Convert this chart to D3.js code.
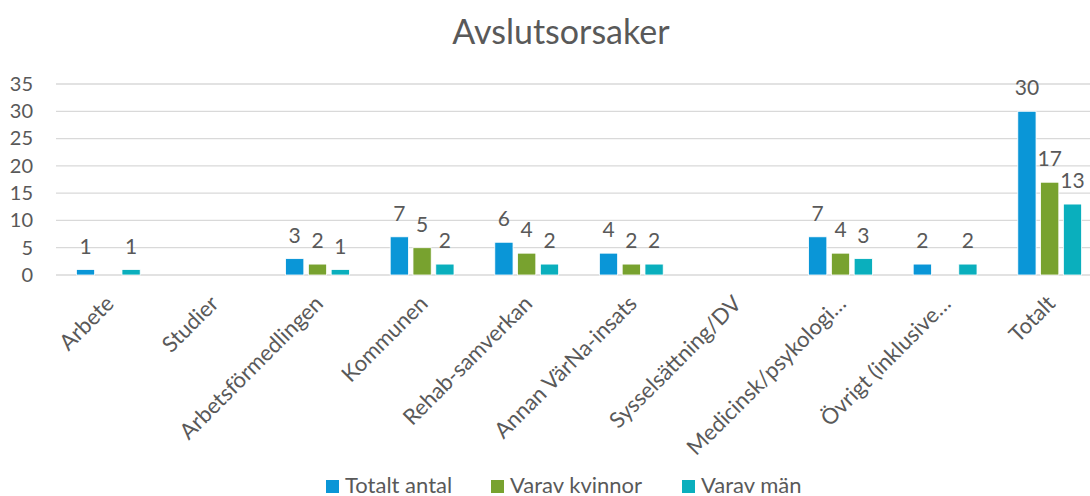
<!DOCTYPE html>
<html>
<head>
<meta charset="utf-8">
<script src="https://cdn.jsdelivr.net/npm/d3@7"></script>
<style>
  body { margin: 0; background: #fff; }
  text { font-family: "Lato", "Open Sans", sans-serif; fill: #595959; }
</style>
</head>
<body>
<div id="chart"></div>
<script>
var categories = ["Arbete", "Studier", "Arbetsförmedlingen", "Kommunen", "Rehab-samverkan",
                  "Annan VärNa-insats", "Sysselsättning/DV", "Medicinsk/psykologi…",
                  "Övrigt (inklusive…", "Totalt"];
var seriesNames = ["Totalt antal", "Varav kvinnor", "Varav män"];
var totaltAntal = [1, 0, 3, 7, 6, 4, 0, 7, 2, 30];
var varavKvinnor = [0, 0, 2, 5, 4, 2, 0, 4, 0, 17];
var varavMan = [1, 0, 1, 2, 2, 2, 0, 3, 2, 13];
var yTicks = [0, 5, 10, 15, 20, 25, 30, 35];
var colors = ["#0a96d7", "#78a22f", "#0aafbd"];

function init(){
    var w = 1090, h = 496;
    var seriesValues = [totaltAntal, varavKvinnor, varavMan];

    var svg = d3.select("#chart").append("svg")
                .attr("width", w).attr("height", h);

    var x0 = d3.scaleBand().domain(categories).range([56, 1102])
               .paddingInner(0.39).paddingOuter(0.195);
    var x1 = d3.scaleBand().domain(seriesNames).range([0, x0.bandwidth()])
               .paddingInner(0.2);
    var y = d3.scaleLinear().domain([0, 35]).range([275, 84]);

    // title
    svg.append("text").attr("x", 561).attr("y", 44)
       .attr("text-anchor", "middle").style("font-size", "34px")
       .text("Avslutsorsaker");

    // gridlines
    svg.append("g").selectAll("line").data(yTicks).enter().append("line")
       .attr("x1", 56).attr("x2", w)
       .attr("y1", d => y(d)).attr("y2", d => y(d))
       .attr("stroke", "#d9d9d9").attr("stroke-width", 1.3);

    // y axis labels
    var yAxis = svg.append("g").attr("transform", "translate(36,0)")
       .call(d3.axisLeft(y).tickValues(yTicks).tickSize(0).tickPadding(3));
    yAxis.select(".domain").remove();
    yAxis.selectAll("text").style("font-size", "20px").attr("fill", "#595959")
         .style("font-family", "Lato, sans-serif");

    // x axis labels, rotated
    var xAxis = svg.append("g").attr("transform", "translate(0,275)")
       .call(d3.axisBottom(x0).tickSize(0).tickPadding(0));
    xAxis.select(".domain").remove();
    xAxis.selectAll("text")
         .style("font-size", "22px").attr("fill", "#595959")
         .style("font-family", "Lato, sans-serif")
         .attr("text-anchor", "end")
         .attr("dy", 0)
         .attr("transform", "translate(7,30) rotate(-45)");

    // bars + value labels (zeros get no bar and no label)
    var groups = svg.selectAll("g.cat").data(categories).enter().append("g")
       .attr("class", "cat")
       .attr("transform", d => `translate(${x0(d)},0)`);

    groups.each(function(c, i){
        var g = d3.select(this);
        seriesNames.forEach(function(s, j){
            var v = seriesValues[j][i];
            if (v <= 0) return;
            g.append("rect")
             .attr("x", x1(s)).attr("width", x1.bandwidth())
             .attr("y", y(v)).attr("height", y(0) - y(v))
             .attr("fill", colors[j]).attr("stroke", "#fff").attr("stroke-width", 0.8);
            g.append("text")
             .attr("x", x1(s) + x1.bandwidth() / 2).attr("y", y(v) - 16)
             .attr("text-anchor", "middle").style("font-size", "21px")
             .text(v);
        });
    });

    // legend
    var legendX = [326, 491, 682];
    var legend = svg.selectAll("g.legend").data(seriesNames).enter().append("g")
       .attr("class", "legend")
       .attr("transform", (d, i) => `translate(${legendX[i]},480)`);
    legend.append("rect").attr("width", 13).attr("height", 13)
          .attr("fill", (d, i) => colors[i]);
    legend.append("text").attr("x", 19).attr("y", 13)
          .style("font-size", "22px").text(d => d);
}
window.onload = init;
</script>
</body>
</html>
